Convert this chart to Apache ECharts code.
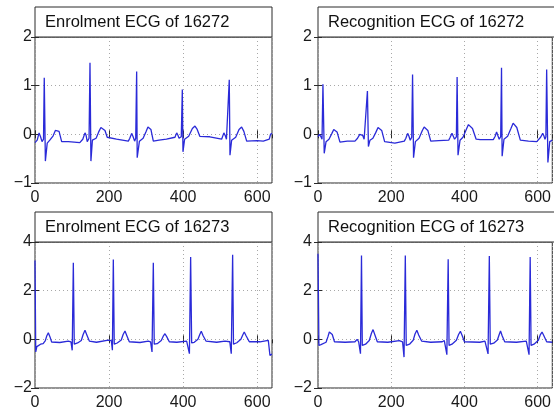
<!DOCTYPE html>
<html>
<head>
<meta charset="utf-8">
<script src="https://cdn.jsdelivr.net/npm/echarts@6/dist/echarts.min.js"></script>
<style>html,body{margin:0;padding:0;background:#fff}#c{width:554px;height:413px}</style>
</head>
<body>
<div id="c"></div>
<script>
// ---- data (sample index, mV) ----
const titles = ['Enrolment ECG of 16272', 'Recognition ECG of 16272', 'Enrolment ECG of 16273', 'Recognition ECG of 16273'];
const xTicks = [0, 200, 400, 600];
const yTicksTop = [-1, 0, 1, 2];
const yTicksBottom = [-2, 0, 2, 4];

const enrol16272 = [
[0,-0.17],[6,-0.12],[11,0.03],[15,-0.05],[19,-0.15],[23,-0.1],[25,1.16],[28,-0.55],[33,-0.18],[40,-0.12],[49,-0.03],[55,0.08],[60,0.12],[65,0.06],[72,-0.15],[90,-0.15],[121,-0.17],[129,-0.1],[135,0.03],[138,-0.02],[141,-0.15],[146,-0.08],[148.5,1.47],[151,-0.55],[155,-0.12],[165,-0.08],[172,0.05],[178,0.14],[183,0.16],[189,0.08],[195,-0.06],[220,-0.1],[252,-0.14],[256,-0.08],[261,0.02],[265,-0.05],[269,-0.14],[272,-0.08],[274.5,1.29],[276,-0.48],[282,-0.14],[292,-0.08],[300,0.06],[305,0.15],[308.5,0.17],[313,0.1],[319.5,-0.14],[335,-0.12],[355,-0.1],[378,-0.06],[382.6,0.03],[386,-0.02],[389,-0.08],[395,-0.05],[397.8,0.92],[399.6,-0.36],[404,-0.1],[415,-0.04],[425,0.12],[432,0.17],[438,0.1],[445,-0.04],[472,-0.05],[504,-0.1],[510,0.03],[514,-0.03],[517,-0.1],[522,-0.06],[524.6,1.12],[526.5,-0.43],[531,-0.12],[542,-0.06],[551,0.1],[558,0.15],[564,0.06],[571.6,-0.14],[600,-0.13],[616.5,-0.14],[632.7,-0.1],[636,0.0],[640,0.02]
];

const recog16272 = [
[0,-0.05],[4,0.0],[8,-0.05],[11,-0.1],[13.5,1.03],[17,-0.39],[22,-0.15],[30,-0.1],[38,0.02],[43,0.1],[47,0.12],[52,0.05],[60,-0.16],[80,-0.14],[101,-0.14],[108,-0.08],[114,0.0],[118.8,0.03],[122,-0.02],[126,-0.1],[131,-0.06],[135,0.89],[137.7,-0.25],[142,-0.12],[150,-0.08],[158,0.04],[164,0.14],[168,0.16],[174,0.08],[182,-0.15],[186,-0.18],[210,-0.18],[235.8,-0.14],[240,-0.08],[244.8,0.02],[248,-0.03],[252,-0.12],[256,-0.06],[258.3,1.23],[261,-0.48],[266,-0.15],[276,-0.08],[285,0.08],[290,0.15],[294,0.16],[300,0.08],[308,-0.14],[330,-0.13],[357,-0.12],[361,-0.06],[366,0.02],[369,-0.03],[373,-0.1],[378,-0.05],[380,1.18],[382.5,-0.43],[388,-0.12],[396,-0.06],[405,0.1],[411,0.2],[416,0.23],[422,0.12],[432,-0.1],[443,-0.11],[478.8,-0.11],[484,-0.04],[487.8,0.05],[491,-0.02],[495,-0.1],[499,-0.05],[501.3,1.37],[503,-0.45],[508,-0.1],[518,-0.04],[527,0.12],[533,0.23],[537,0.25],[543,0.14],[552.7,-0.12],[575,-0.14],[597.6,-0.15],[608,-0.06],[613.8,0.02],[617,-0.03],[620,-0.1],[622.5,-0.05],[624.6,1.33],[628,-0.58],[633,-0.15],[640,-0.12]
];

const enrol16273 = [
[0,3.24],[2,-0.52],[5,-0.3],[15,-0.2],[22,-0.18],[28,-0.05],[32,0.15],[36,0.27],[40,0.12],[45,-0.11],[67,-0.13],[90,-0.07],[94,0.0],[97,-0.1],[100.5,-0.45],[103.5,3.15],[106,-0.2],[115,-0.15],[125,-0.05],[130,0.2],[135,0.37],[140,0.18],[146.7,-0.07],[166,-0.12],[198,-0.03],[202,0.03],[206,-0.05],[209,-0.45],[211.5,3.28],[214,-0.2],[222,-0.15],[233,-0.03],[238,0.2],[243,0.34],[248,0.15],[254.7,-0.1],[283.5,-0.13],[306,-0.07],[309,0.0],[312,-0.1],[316,-0.52],[319.5,3.15],[322,-0.2],[330,-0.18],[341,-0.05],[346,0.12],[351,0.23],[356,0.1],[362.7,-0.1],[383,-0.12],[409.5,-0.07],[413,-0.02],[417,-0.59],[420.3,3.38],[423,-0.15],[430,-0.12],[440,0.0],[445,0.2],[449,0.33],[454,0.15],[461.7,-0.07],[490.5,-0.12],[513,-0.07],[518,-0.02],[526,-0.1],[530,-0.59],[533.7,3.48],[536,-0.2],[545,-0.14],[556,0.0],[561,0.18],[565,0.3],[570,0.15],[578.7,-0.1],[607.5,-0.1],[630,-0.04],[634.5,-0.66],[640,-0.6]
];

const recog16273 = [
[0,3.52],[2.5,-0.25],[8,-0.22],[13,-0.21],[22,-0.12],[27,0.1],[31,0.3],[35,0.37],[39,0.2],[45,-0.1],[74,-0.12],[101,-0.1],[107,0.0],[111,-0.1],[116,-0.59],[118.8,3.45],[121,-0.25],[130,-0.2],[140,-0.05],[146,0.25],[150.4,0.4],[155,0.2],[162,-0.1],[190.8,-0.12],[222,-0.05],[227,0.0],[231,-0.1],[235,-0.73],[238.5,3.45],[241,-0.25],[250,-0.2],[260,-0.04],[265,0.22],[270,0.37],[275,0.18],[283,-0.07],[307.8,-0.12],[339.4,-0.1],[345,-0.05],[352,-0.63],[355.6,3.29],[358,-0.25],[366,-0.2],[378,-0.04],[384,0.2],[389,0.33],[394,0.15],[400,-0.1],[442,-0.12],[456,-0.07],[460,-0.05],[464.5,-0.6],[468,3.42],[470.5,-0.2],[480,-0.16],[490,-0.03],[495,0.2],[498.6,0.34],[503,0.15],[510,-0.1],[542,-0.12],[569,-0.07],[573,-0.05],[576.5,-0.63],[579.6,3.38],[582,-0.25],[590,-0.2],[602,-0.04],[607,0.18],[612,0.3],[617,0.15],[624.6,-0.1],[640,-0.12]
];

const seriesData = [enrol16272, recog16272, enrol16273, recog16273];
const yTickSets = [yTicksTop, yTicksTop, yTicksBottom, yTicksBottom];

// ---- layout ----
const panels = [
  {left: 35, top: 37, width: 237, height: 146, labelMargin: 3},
  {left: 318, top: 37, width: 238, height: 146, labelMargin: 6},
  {left: 35, top: 242, width: 237, height: 146, labelMargin: 3},
  {left: 318, top: 242, width: 238, height: 146, labelMargin: 6}
];
const FONT = 'Liberation Sans, Arial, Helvetica, sans-serif';
const axisColor = '#2a2a2a';
const gridLine = {show: true, lineStyle: {color: '#a8a8a8', type: [1, 3], width: 1}};

const grid = [], xAxis = [], yAxis = [], series = [], graphic = [];
panels.forEach((p, i) => {
  grid.push({left: p.left, top: p.top, width: p.width, height: p.height, show: true,
    borderColor: axisColor, borderWidth: 1, backgroundColor: '#fff', containLabel: false});
  const yt = yTickSets[i];
  const yInt = yt[1] - yt[0];
  xAxis.push({type: 'value', gridIndex: i, min: xTicks[0], max: 640, interval: xTicks[1] - xTicks[0],
    axisLine: {show: false}, axisTick: {show: true, inside: true, length: 4, lineStyle: {color: axisColor}},
    axisLabel: {color: '#1a1a1a', fontSize: 16, fontFamily: FONT, margin: 7, showMaxLabel: false},
    splitLine: gridLine});
  xAxis.push({type: 'value', gridIndex: i, position: 'top', min: xTicks[0], max: 640, interval: xTicks[1] - xTicks[0],
    axisLine: {show: false}, axisTick: {show: true, inside: true, length: 4, lineStyle: {color: axisColor}},
    axisLabel: {show: false}, splitLine: {show: false}});
  yAxis.push({type: 'value', gridIndex: i, min: yt[0], max: yt[yt.length - 1], interval: yInt,
    axisLine: {show: false}, axisTick: {show: true, inside: true, length: 4, lineStyle: {color: axisColor}},
    axisLabel: {color: '#1a1a1a', fontSize: 16, fontFamily: FONT, margin: p.labelMargin,
      formatter: v => String(v).replace('-', '\u2212')},
    splitLine: gridLine});
  yAxis.push({type: 'value', gridIndex: i, position: 'right', min: yt[0], max: yt[yt.length - 1], interval: yInt,
    axisLine: {show: false}, axisTick: {show: true, inside: true, length: 4, lineStyle: {color: axisColor}},
    axisLabel: {show: false}, splitLine: {show: false}});
  series.push({type: 'line', xAxisIndex: 2 * i, yAxisIndex: 2 * i, data: seriesData[i], showSymbol: false,
    symbol: 'none', clip: true, lineStyle: {color: '#2a2ad8', width: 1.3}, z: 3});
  graphic.push({type: 'rect', shape: {x: p.left, y: p.top - 30, width: p.width, height: 30},
    style: {fill: '#fff', stroke: axisColor, lineWidth: 1}, z: 10});
  graphic.push({type: 'text', x: p.left + 10, y: p.top - 15,
    style: {text: titles[i], font: '16.5px ' + FONT, fill: '#111', verticalAlign: 'middle', textAlign: 'left'}, z: 11});
});

const chart = echarts.init(document.getElementById('c'), null, {renderer: 'canvas'});
chart.setOption({animation: false, grid, xAxis, yAxis, series, graphic});
</script>
</body>
</html>
